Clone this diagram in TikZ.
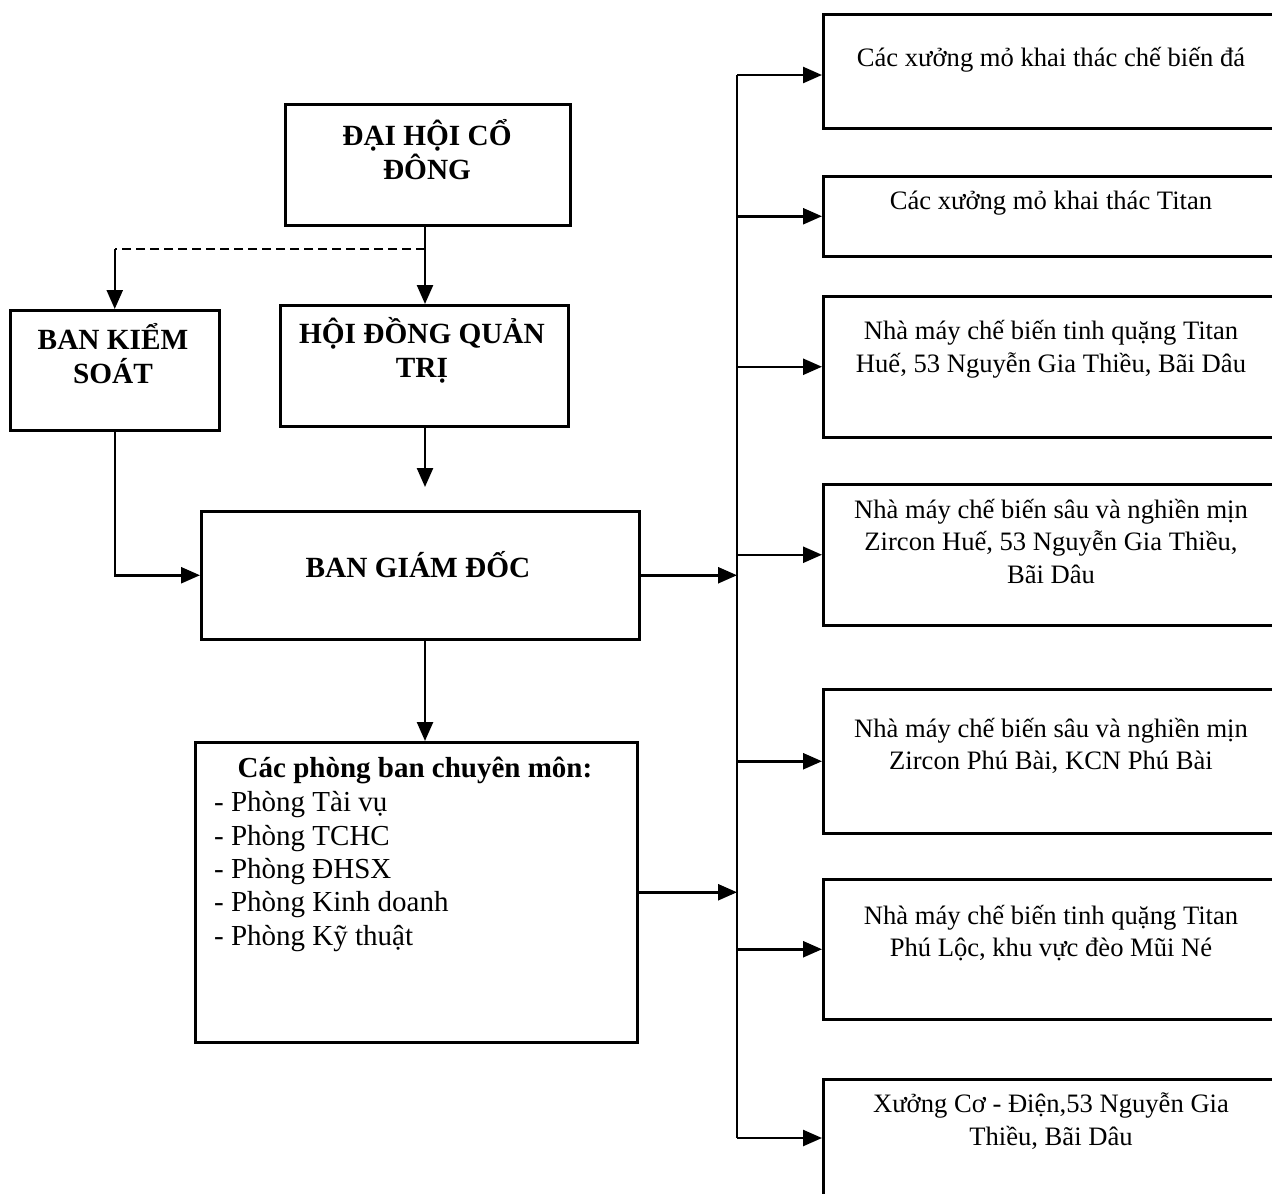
\documentclass[tikz,border=0pt]{standalone}
\usepackage{fontspec}
\setmainfont{Liberation Serif}
\usetikzlibrary{arrows.meta}
\tikzset{
  box/.style={draw, line width=2.5pt, inner sep=0pt, anchor=north west},
  lbl/.style={inner sep=0pt, align=center, font=\fontsize{26.6}{32.5}\selectfont},
  blbl/.style={inner sep=0pt, align=center, font=\fontsize{29.3}{34}\selectfont\bfseries},
  conn/.style={line width=2.5pt},
  arr/.style={line width=2.5pt, -{Triangle[length=19pt,width=16pt]}},
}
\begin{document}
\begin{tikzpicture}[x=1pt,y=-1pt]
\useasboundingbox (0,0) rectangle (1272,1194);
% left column boxes
\node[box, minimum width=285pt, minimum height=121pt] (dhcd) at (284,103) {};
\node[blbl] (tdhcd) at (427,150) {ĐẠI HỘI CỔ\\ĐÔNG};
\node[box, minimum width=209pt, minimum height=120pt] (bks) at (9,309) {};
\node[blbl] (tbks) at (113,354) {BAN KIỂM\\SOÁT};
\node[box, minimum width=288pt, minimum height=121pt] (hdqt) at (279,304) {};
\node[blbl] (thdqt) at (422,350) {HỘI ĐỒNG QUẢN\\TRỊ};
\node[box, minimum width=438pt, minimum height=128pt] (bgd) at (200,510) {};
\node[blbl] (tbgd) at (418,565) {BAN GIÁM ĐỐC};
\node[box, minimum width=442pt, minimum height=300pt] (phong) at (194,741) {};
\node[inner sep=0pt, font=\fontsize{29}{33.3}\selectfont\bfseries] (tphong) at (415,770) {Các phòng ban chuyên môn:};
\node[inner sep=0pt, anchor=west, align=left, font=\fontsize{29}{33.3}\selectfont] (lphong) at (214,871.5) {- Phòng Tài vụ\\- Phòng TCHC\\- Phòng ĐHSX\\- Phòng Kinh doanh\\- Phòng Kỹ thuật};
% right boxes
\node[box, minimum width=460pt, minimum height=114pt] (r1) at (822,13) {};
\node[lbl] (t1) at (1051,60) {Các xưởng mỏ khai thác chế biến đá};
\node[box, minimum width=460pt, minimum height=80pt] (r2) at (822,175) {};
\node[lbl] (t2) at (1051,203) {Các xưởng mỏ khai thác Titan};
\node[box, minimum width=460pt, minimum height=141pt] (r3) at (822,295) {};
\node[lbl] (t3) at (1051,349) {Nhà máy chế biến tinh quặng Titan\\Huế, 53 Nguyễn Gia Thiều, Bãi Dâu};
\node[box, minimum width=460pt, minimum height=141pt] (r4) at (822,483) {};
\node[lbl] (t4) at (1051,541) {Nhà máy chế biến sâu và nghiền mịn\\Zircon Huế, 53 Nguyễn Gia Thiều,\\Bãi Dâu};
\node[box, minimum width=460pt, minimum height=144pt] (r5) at (822,688) {};
\node[lbl] (t5) at (1051,746) {Nhà máy chế biến sâu và nghiền mịn\\Zircon Phú Bài, KCN Phú Bài};
\node[box, minimum width=460pt, minimum height=140pt] (r6) at (822,878) {};
\node[lbl] (t6) at (1051,933) {Nhà máy chế biến tinh quặng Titan\\Phú Lộc, khu vực đèo Mũi Né};
\node[box, minimum width=460pt, minimum height=120pt] (r7) at (822,1078) {};
\node[lbl] (t7) at (1051,1121) {Xưởng Cơ - Điện,53 Nguyễn Gia\\Thiều, Bãi Dâu};
% left connectors
\coordinate (col) at (425,0);
\coordinate (j) at (425,249);
\draw[arr] (dhcd.south -| col) -- (hdqt.north -| col);
\draw[conn, dash pattern=on 9pt off 5pt] (j) -- (j -| bks.north);
\draw[arr] (j -| bks.north) -- (bks.north);
\draw[arr, shorten >=23pt] (hdqt.south -| col) -- (bgd.north -| col);
\draw[arr] (bks.south) |- (bgd.west);
\draw[arr] (bgd.south -| col) -- (phong.north -| col);
% bus
\coordinate (busx) at (737,0);
\coordinate (bustop) at (737,75);
\coordinate (busbot) at (737,1138);
\draw[conn] (bustop) -- (busbot);
\draw[arr] (bgd.east) -- (bgd.east -| busx);
\draw[arr] (phong.east) -- (phong.east -| busx);
\draw[arr] (bustop) -- (bustop -| r1.west);
\foreach \r in {r2,r3,r4,r5,r6} {
  \draw[arr] (\r.west -| busx) -- (\r.west);
}
\draw[arr] (busbot) -- (busbot -| r7.west);
\end{tikzpicture}
\end{document}
